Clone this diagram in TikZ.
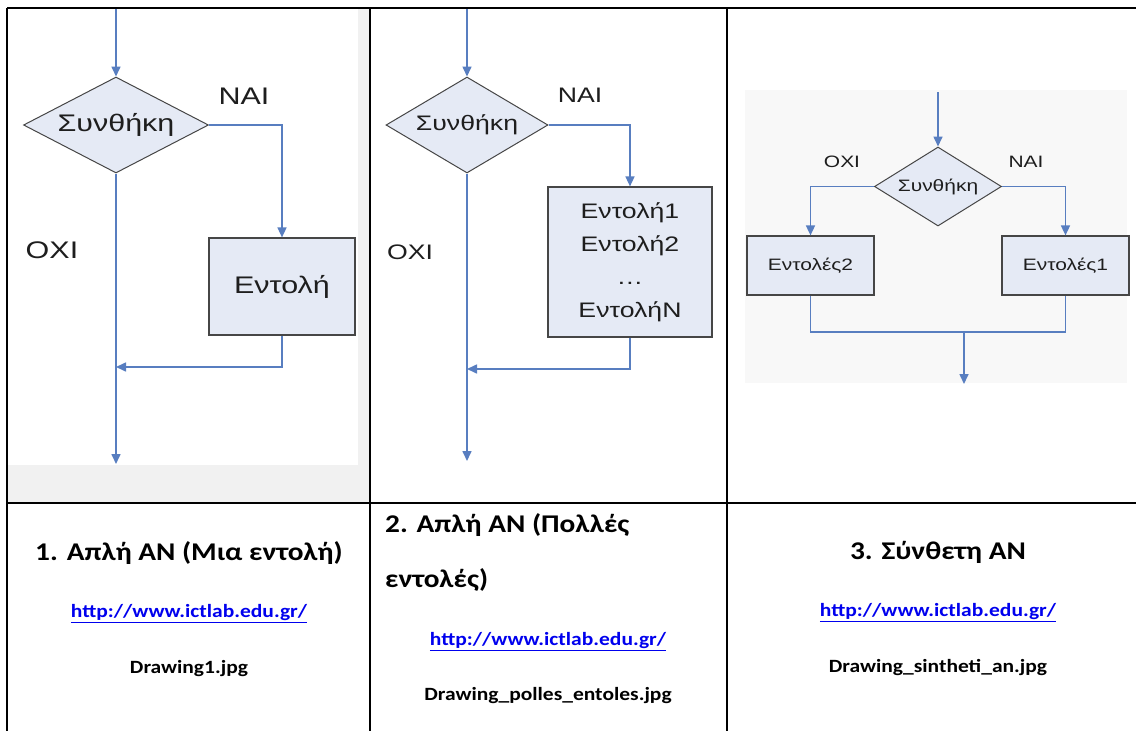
\documentclass[tikz,border=0pt]{standalone}
\usepackage{fontspec}
\usepackage{graphicx}
\setmainfont{Liberation Sans}
\newfontfamily\calfont{Carlito}
\usetikzlibrary{shapes.geometric,arrows.meta}
\definecolor{flow}{RGB}{88,126,192}
\definecolor{boxfill}{RGB}{229,234,245}
\definecolor{boxline}{RGB}{70,70,70}
\definecolor{txt}{RGB}{30,30,30}
\definecolor{link}{RGB}{0,0,238}
\definecolor{picbg}{RGB}{248,248,248}
\definecolor{edgebg}{RGB}{241,241,241}
\newcommand{\stx}[1]{\scalebox{1.27}[1]{#1}}
\newcommand{\stc}[1]{\scalebox{1.15}[1]{#1}}
\begin{document}
\begin{tikzpicture}[x=1pt,y=-1pt,
  flowline/.style={draw=flow,line width=1.6pt},
  arr/.style={flowline,-{Triangle[width=9pt,length=10pt]}},
  cond/.style={diamond,draw=boxline,fill=boxfill,line width=1pt,inner sep=0pt,text=txt},
  act/.style={rectangle,draw=boxline,fill=boxfill,line width=1.2pt,inner sep=0pt,text=txt,align=center},
  lbl/.style={text=txt,inner sep=0pt},
  fbig/.style={font=\fontsize{24}{28}\selectfont},
  fmid/.style={font=\fontsize{21}{33}\selectfont},
  fsmall/.style={font=\fontsize{16.5}{20}\selectfont},
  title/.style={inner sep=0pt,text=black,font=\calfont\bfseries\fontsize{25.5}{30}\selectfont},
  url/.style={inner sep=0pt,text=link,font=\calfont\bfseries\fontsize{18.7}{22}\selectfont},
  fname/.style={inner sep=0pt,text=black,font=\calfont\bfseries\fontsize{18.7}{22}\selectfont},
  grid/.style={line width=2pt,draw=black}]
\useasboundingbox (0,0) rectangle (1136,731);
\fill[white] (0,0) rectangle (1136,731);
% light backgrounds around the pictures
\fill[edgebg] (358,8) rectangle (370,503);
\fill[edgebg] (7,465) rectangle (370,503);
\fill[picbg] (745,90) rectangle (1127,383);

% ---------- Panel 1 ----------
\node[cond,fbig,shape aspect=1.93,minimum width=185pt,minimum height=96pt] (c1) at (116,125) {\stx{Συνθήκη}};
\node[act,fbig,minimum width=146pt,minimum height=97pt] (a1) at (282,286.5) {\stx{Εντολή}};
\coordinate (s1) at (116,8);
\coordinate (e1) at (116,464);
\coordinate (j1) at (116,367);
\draw[arr] (s1) -- (c1.north);
\draw[arr] (c1.east) -| (a1.north);
\draw[arr] (c1.south) -- (e1);
\draw[arr] (a1.south) |- (j1);
\node[lbl,fbig] (y1) at (244,96) {\stx{NAI}};
\node[lbl,fbig] (n1) at (52,250) {\stx{OXI}};

% ---------- Panel 2 ----------
\node[cond,fmid,shape aspect=1.69,minimum width=162pt,minimum height=96pt] (c2) at (467,125) {\stx{Συνθήκη}};
\node[act,fmid,minimum width=164pt,minimum height=150pt] (a2) at (630,262) {\stx{Εντολή1}\\\stx{Εντολή2}\\\stx{…}\\\stx{ΕντολήN}};
\coordinate (s2) at (467,8);
\coordinate (e2) at (467,461);
\coordinate (j2) at (467,369);
\draw[arr] (s2) -- (c2.north);
\draw[arr] (c2.east) -| (a2.north);
\draw[arr] (c2.south) -- (e2);
\draw[arr] (a2.south) |- (j2);
\node[lbl,fmid] (y2) at (580,95) {\stx{NAI}};
\node[lbl,fmid] (n2) at (410,252) {\stx{OXI}};

% ---------- Panel 3 ----------
\node[cond,fsmall,shape aspect=1.61,minimum width=127pt,minimum height=79pt] (c3) at (938,186.5) {\stx{Συνθήκη}};
\node[act,fsmall,minimum width=127pt,minimum height=59pt] (b2) at (810.5,265.5) {\stx{Εντολές2}};
\node[act,fsmall,minimum width=127pt,minimum height=59pt] (b1) at (1065.5,265.5) {\stx{Εντολές1}};
\coordinate (s3) at (938,92);
\coordinate (m3) at (964,332);
\coordinate (e3) at (964,384);
\draw[arr] (s3) -- (c3.north);
\draw[arr] (c3.west) -| (b2.north);
\draw[arr] (c3.east) -| (b1.north);
\draw[flowline] (b2.south) |- (m3) -| (b1.south);
\draw[arr] (m3) -- (e3);
\node[lbl,fsmall] (n3) at (842,162) {\stx{OXI}};
\node[lbl,fsmall] (y3) at (1026,162) {\stx{NAI}};

% ---------- table grid ----------
\draw[grid] (7,8) -- (1136,8);
\draw[grid] (7,503) -- (1136,503);
\draw[grid] (7,8) -- (7,731);
\draw[grid] (370,8) -- (370,731);
\draw[grid] (727,8) -- (727,731);

% ---------- captions ----------
\node[title] (t1) at (189,553) {\stc{1. Απλή ΑΝ (Μια εντολή)}};
\node[url] (u1) at (189,614) {\stc{\underline{http://www.ictlab.edu.gr/}}};
\node[fname] (d1) at (189,669) {\stc{Drawing1.jpg}};

\node[title,anchor=west] (t2a) at (385,525) {\stc{2. Απλή ΑΝ (Πολλές}};
\node[title,anchor=west] (t2b) at (385,580) {\stc{εντολές)}};
\node[url] (u2) at (548,642) {\stc{\underline{http://www.ictlab.edu.gr/}}};
\node[fname] (d2) at (548,696) {\stc{Drawing\_polles\_entoles.jpg}};

\node[title] (t3) at (938,552) {\stc{3. Σύνθετη ΑΝ}};
\node[url] (u3) at (938,613) {\stc{\underline{http://www.ictlab.edu.gr/}}};
\node[fname] (d3) at (938,668) {\stc{Drawing\_sintheti\_an.jpg}};
\end{tikzpicture}
\end{document}
